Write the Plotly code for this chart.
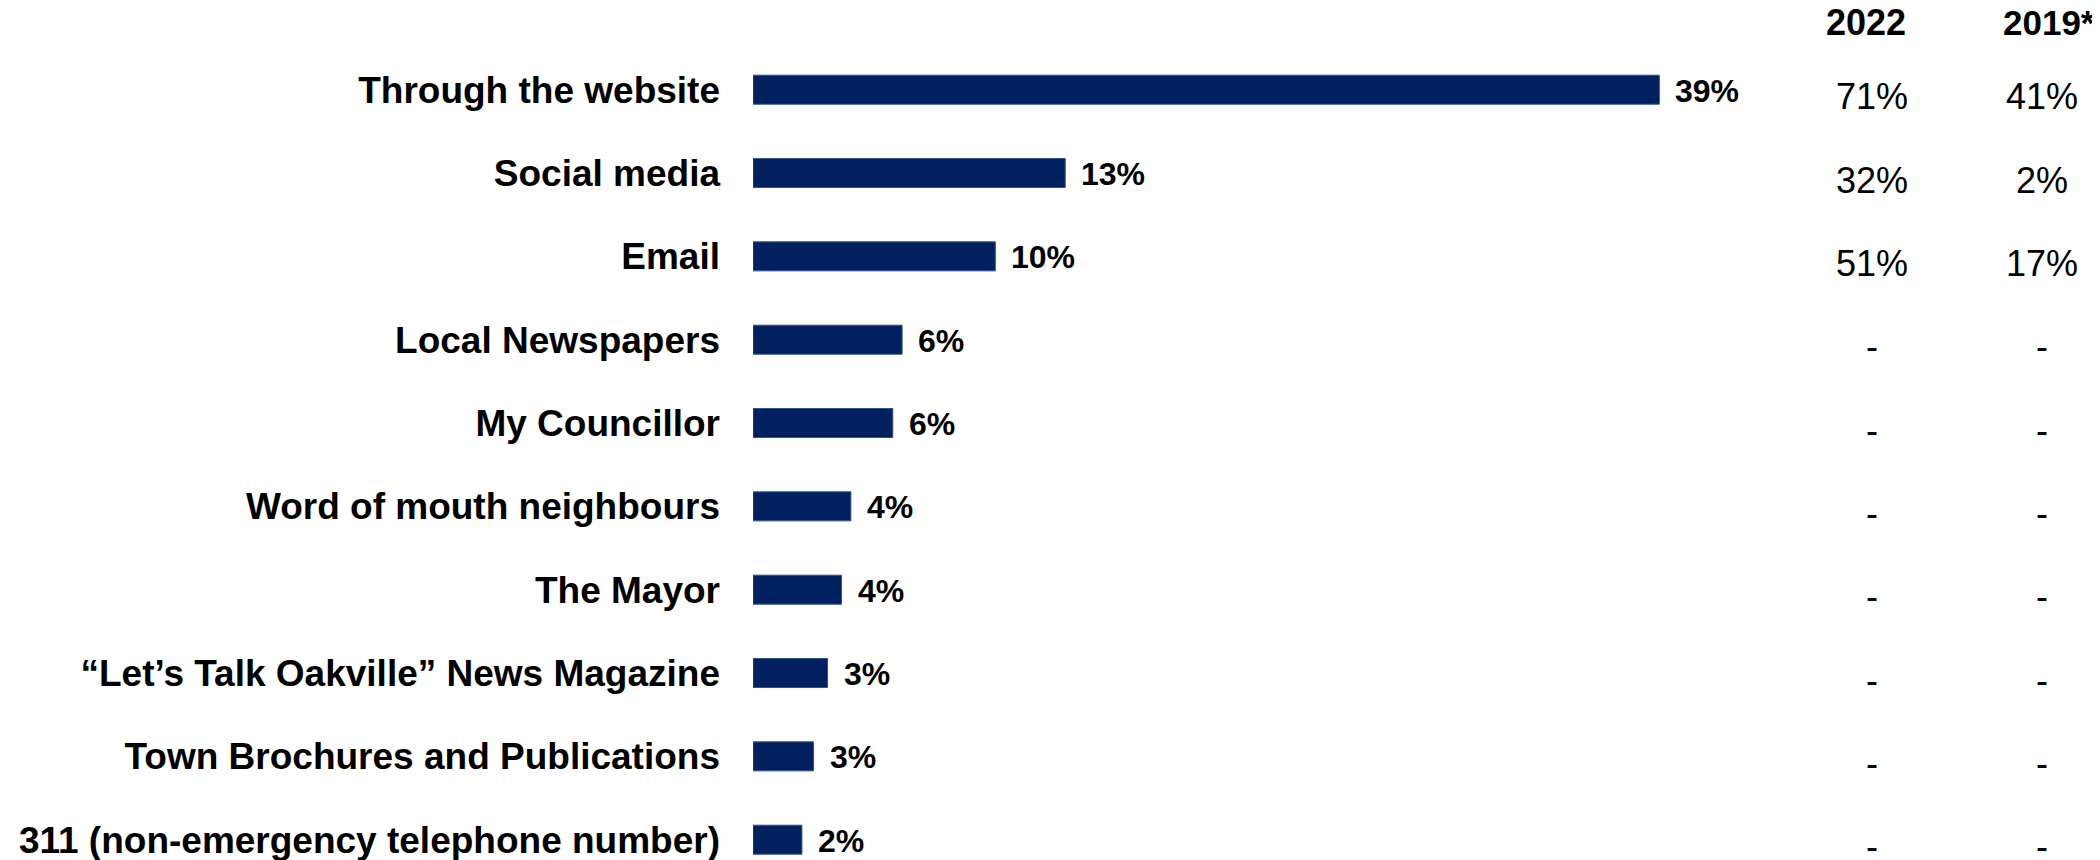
import plotly.graph_objects as go

categories = [
    "Through the website",
    "Social media",
    "Email",
    "Local Newspapers",
    "My Councillor",
    "Word of mouth neighbours",
    "The Mayor",
    "\u201cLet\u2019s Talk Oakville\u201d News Magazine",
    "Town Brochures and Publications",
    "311 (non-emergency telephone number)",
]
values_2023 = [38.9, 13.4, 10.4, 6.4, 6.0, 4.2, 3.8, 3.2, 2.6, 2.1]
col_2022 = ["71%", "32%", "51%", "-", "-", "-", "-", "-", "-", "-"]
col_2019 = ["41%", "2%", "17%", "-", "-", "-", "-", "-", "-", "-"]
headers = ["2022", "2019*"]

FONT = "Liberation Sans, Arial, sans-serif"
OFF = 8  # default page body margin
W, H = 2100 - OFF, 860 - OFF
ML = 753 - OFF
PLOT_W = W - ML
PX_PER_PCT = 23.3

fig = go.Figure(
    go.Bar(
        y=categories,
        x=values_2023,
        orientation="h",
        marker=dict(color="#002060", line=dict(color="#2F528F", width=1)),
        hoverinfo="skip",
    )
)

annotations = []
for c, v in zip(categories, values_2023):
    annotations.append(dict(
        x=v, y=c, xref="x", yref="y", text=f"<b>{v:.0f}%</b>",
        showarrow=False, xanchor="left", yanchor="middle", xshift=14, yshift=-1,
        font=dict(family=FONT, size=32, color="black"),
    ))

def px_to_paper(px):
    return (px - OFF - ML) / PLOT_W

x2022 = px_to_paper(1872)
x2019 = px_to_paper(2042)
for c, a, b in zip(categories, col_2022, col_2019):
    for xx, t in ((x2022, a), (x2019, b)):
        annotations.append(dict(
            x=xx, y=c, xref="paper", yref="y", text=t, showarrow=False,
            xanchor="center", yanchor="middle", yshift=-7,
            font=dict(family=FONT, size=36, color="black"),
        ))

hy = 1 - (22 - OFF) / H
annotations.append(dict(x=px_to_paper(1866), y=hy, xref="paper", yref="paper",
                        text=f"<b>{headers[0]}</b>", showarrow=False,
                        xanchor="center", yanchor="middle",
                        font=dict(family=FONT, size=36, color="black")))
annotations.append(dict(x=px_to_paper(2097), y=hy, xref="paper", yref="paper",
                        text=f"<b>{headers[1]}</b>", showarrow=False,
                        xanchor="right", yanchor="middle",
                        font=dict(family=FONT, size=35, color="black")))

top_idx = -(89.7 - OFF) / 83.33
bot_idx = 9 + (860 - 839.7) / 83.33

fig.update_layout(
    width=W, height=H,
    margin=dict(l=ML, r=0, t=0, b=0),
    paper_bgcolor="white", plot_bgcolor="white",
    bargap=0.652,
    showlegend=False,
    annotations=annotations,
    xaxis=dict(range=[0, PLOT_W / PX_PER_PCT], visible=False, fixedrange=True),
    yaxis=dict(
        range=[bot_idx, top_idx],
        showgrid=False, zeroline=False, showline=False,
        ticks="", ticklabelstandoff=32,
        tickfont=dict(family=FONT, size=37, color="black", weight="bold"),
        fixedrange=True,
    ),
)

fig.write_html("out.html")
